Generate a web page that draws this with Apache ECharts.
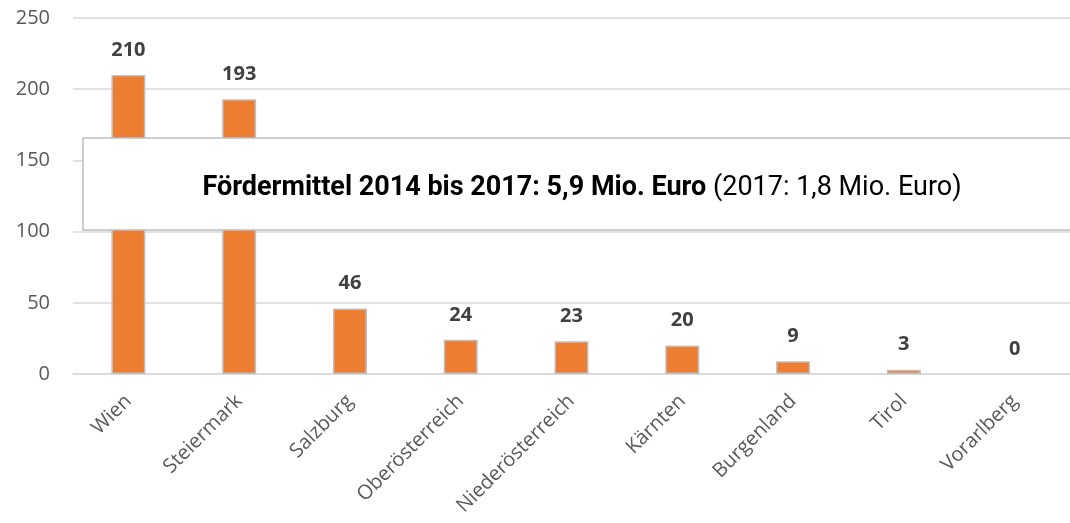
<!DOCTYPE html>
<html>
<head>
<meta charset="utf-8">
<script src="https://cdn.jsdelivr.net/npm/echarts@6/dist/echarts.min.js"></script>
<style>html,body{margin:0;padding:0;background:#fff;}#c{width:1070px;height:523px;}</style>
</head>
<body>
<div id="c"></div>
<script>
var categories = ['Wien','Steiermark','Salzburg','Oberösterreich','Niederösterreich','Kärnten','Burgenland','Tirol','Vorarlberg'];
var values = [210,193,46,24,23,20,9,3,0];
var yTicks = [0,50,100,150,200,250];
var boxBold = 'Fördermittel 2014 bis 2017: 5,9 Mio. Euro';
var boxNormal = ' (2017: 1,8 Mio. Euro)';

var barData = values.map(function(v){
  return v === 0 ? {value:v, itemStyle:{borderWidth:0}} : v;
});

var chart = echarts.init(document.getElementById('c'), null, {renderer:'canvas'});
chart.setOption({
  animation:false,
  backgroundColor:'#fff',
  grid:{left:73,right:0,top:18,bottom:149,containLabel:false},
  xAxis:{
    type:'category',
    data:categories,
    axisLine:{lineStyle:{color:'#D9D9D9',width:1.5}},
    axisTick:{show:false},
    axisLabel:{rotate:45,margin:24,color:'#595959',fontSize:20,fontFamily:'Open Sans',interval:0}
  },
  yAxis:{
    type:'value',min:yTicks[0],max:yTicks[yTicks.length-1],interval:50,
    axisLine:{show:false},axisTick:{show:false},
    splitLine:{lineStyle:{color:'#D9D9D9',width:1.5}},
    axisLabel:{color:'#595959',fontSize:20,fontFamily:'Open Sans',margin:23}
  },
  series:[{
    type:'bar',
    data:barData,
    barWidth:34,
    itemStyle:{color:'#ED7D31',borderColor:'#BFBFBF',borderWidth:1.5},
    label:{show:true,position:'top',distance:15,color:'#404040',fontSize:20,fontWeight:'bold',fontFamily:'Open Sans'}
  }],
  graphic:[{
    type:'group',
    zlevel:1,
    children:[
      {type:'rect',zlevel:1,shape:{x:83,y:138,width:1000,height:92},style:{fill:'#fff',stroke:'#BFBFBF',lineWidth:1.5}},
      {type:'text',zlevel:1,x:582,y:188,style:{
        rich:{b:{fontWeight:'bold',fontSize:27,fontFamily:'Roboto',fill:'#000'},
              n:{fontSize:27,fontFamily:'Roboto',fill:'#000'}},
        text:'{b|'+boxBold+'}{n|'+boxNormal+'}',
        x:0,y:0,align:'center',verticalAlign:'middle'
      }}
    ]
  }]
});
</script>
</body>
</html>
